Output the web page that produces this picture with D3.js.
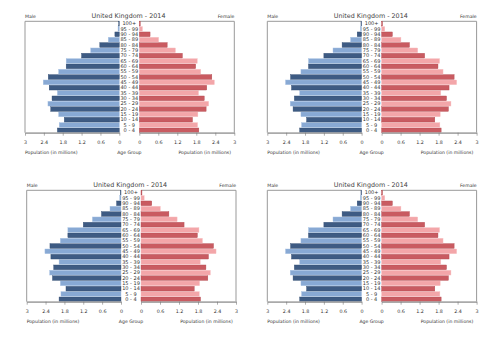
<!DOCTYPE html>
<html>
<head>
<meta charset="UTF-8">
<script src="https://d3js.org/d3.v7.min.js"></script>
<style>
  body { margin: 0; background: #fff; }
  svg { font-family: "DejaVu Sans", sans-serif; }
</style>
</head>
<body>
<svg id="chart" width="500" height="353"></svg>
<script>
// age groups, bottom to top
const ageGroups = ["0 - 4", "5 - 9", "10 - 14", "15 - 19", "20 - 24", "25 - 29", "30 - 34", "35 - 39",
  "40 - 44", "45 - 49", "50 - 54", "55 - 59", "60 - 64", "65 - 69", "70 - 74", "75 - 79",
  "80 - 84", "85 - 89", "90 - 94", "95 - 99", "100+"];
const male = [1.97, 1.91, 1.75, 1.93, 2.18, 2.27, 2.14, 1.97, 2.23, 2.42, 2.26, 1.93,
  1.69, 1.69, 1.20, 0.91, 0.62, 0.35, 0.14, 0.04, 0.02];
const female = [1.88, 1.84, 1.68, 1.85, 2.11, 2.19, 2.05, 1.87, 2.13, 2.37, 2.29, 1.94,
  1.78, 1.83, 1.36, 1.14, 0.88, 0.61, 0.34, 0.10, 0.03];
const ticks = [0, 0.6, 1.2, 1.8, 2.4, 3];
const title = "United Kingdom - 2014";

const panels = [[0, 0], [242.3, 0], [1.7, 169], [242.3, 169]];

const svg = d3.select("#chart");

function drawPanel(ox, oy) {
  const g = svg.append("g").attr("transform", `translate(${ox},${oy})`);
  const top = 21.3, bottom = 132.7;

  const y = d3.scaleBand().domain(ageGroups).range([bottom, top]).paddingInner(0.12);
  const xl = d3.scaleLinear().domain([0, 3]).range([119.3, 25]);
  const xr = d3.scaleLinear().domain([0, 3]).range([139.3, 234.3]);

  const data = ageGroups.map((a, i) => ({ age: a, m: male[i], f: female[i], dark: i % 2 === 0 }));

  // frames
  g.append("path").attr("d", `M${xl(0)},${top}H${xl(3)}V${bottom}`)
    .attr("fill", "none").attr("stroke", "#999").attr("stroke-width", 1);
  g.append("path").attr("d", `M${xr(0)},${top}H${xr(3)}V${bottom}`)
    .attr("fill", "none").attr("stroke", "#999").attr("stroke-width", 1);

  g.selectAll(".m").data(data).enter().append("rect")
    .attr("x", d => xl(d.m)).attr("y", d => y(d.age))
    .attr("width", d => xl(0) - xl(d.m)).attr("height", y.bandwidth())
    .attr("fill", d => d.dark ? "#3e5b83" : "#88a9d4")
    .attr("stroke", d => d.dark ? "#2f4a70" : "#a9c2e3").attr("stroke-width", 0.4);

  g.selectAll(".f").data(data).enter().append("rect")
    .attr("x", xr(0)).attr("y", d => y(d.age))
    .attr("width", d => xr(d.f) - xr(0)).attr("height", y.bandwidth())
    .attr("fill", d => d.dark ? "#c95b61" : "#f3a6a9")
    .attr("stroke", d => d.dark ? "#b24a50" : "#f7c0c2").attr("stroke-width", 0.4);

  g.selectAll(".age").data(data).enter().append("text")
    .attr("x", 129.3).attr("y", d => y(d.age) + y.bandwidth() / 2 + 1.8)
    .attr("text-anchor", "middle").attr("font-size", 5).attr("fill", "#333")
    .text(d => d.age);

  // axes
  const axL = g.append("g").attr("transform", `translate(0,${bottom})`)
    .call(d3.axisBottom(xl).tickValues(ticks).tickFormat(d => d).tickSize(3).tickSizeOuter(0));
  const axR = g.append("g").attr("transform", `translate(0,${bottom})`)
    .call(d3.axisBottom(xr).tickValues(ticks).tickFormat(d => d).tickSize(3).tickSizeOuter(0));
  [axL, axR].forEach(ax => {
    ax.select(".domain").attr("stroke", "#aaa").attr("stroke-width", 1.8);
    ax.selectAll(".tick line").attr("stroke", "#777").attr("stroke-width", 0.6);
    ax.selectAll(".tick text").attr("font-size", 4.8).attr("fill", "#333").attr("y", 7.5)
      .attr("font-family", "DejaVu Sans, sans-serif");
  });

  g.append("text").attr("x", 128.5).attr("y", 18).attr("text-anchor", "middle")
    .attr("font-size", 6.4).attr("fill", "#444").text(title);
  g.append("text").attr("x", 25).attr("y", 17.5).attr("font-size", 4.6).attr("fill", "#333").text("Male");
  g.append("text").attr("x", 234.3).attr("y", 17.5).attr("text-anchor", "end")
    .attr("font-size", 4.6).attr("fill", "#333").text("Female");

  g.append("text").attr("x", 25).attr("y", 154).attr("font-size", 4.6).attr("fill", "#333")
    .text("Population (in millions)");
  g.append("text").attr("x", 129.3).attr("y", 154).attr("text-anchor", "middle")
    .attr("font-size", 4.6).attr("fill", "#333").text("Age Group");
  g.append("text").attr("x", 231).attr("y", 154).attr("text-anchor", "end")
    .attr("font-size", 4.6).attr("fill", "#333").text("Population (in millions)");
}

panels.forEach(p => drawPanel(p[0], p[1]));
</script>
</body>
</html>
